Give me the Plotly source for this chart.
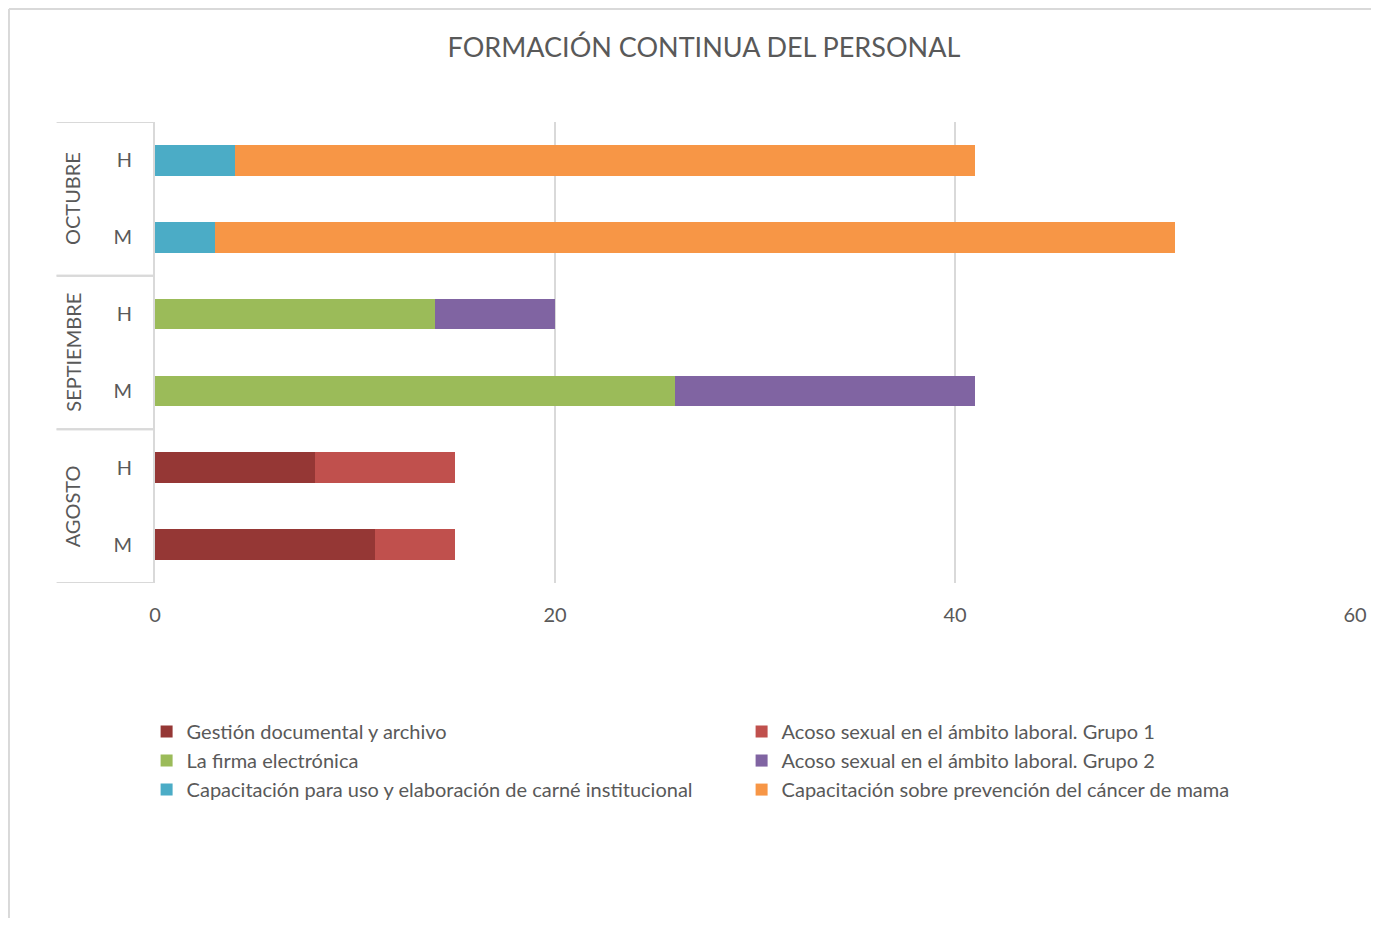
import plotly.graph_objects as go

# --- Data (bottom to top, as drawn) ---
meses = ["AGOSTO", "AGOSTO", "SEPTIEMBRE", "SEPTIEMBRE", "OCTUBRE", "OCTUBRE"]
sexo = ["M", "H", "M", "H", "M", "H"]

gestion_documental = [11, 8, 0, 0, 0, 0]
acoso_grupo1 = [4, 7, 0, 0, 0, 0]
firma_electronica = [0, 0, 26, 14, 0, 0]
acoso_grupo2 = [0, 0, 15, 6, 0, 0]
carne_institucional = [0, 0, 0, 0, 3, 4]
cancer_mama = [0, 0, 0, 0, 48, 37]

series = [
    ("Gestión documental y archivo", gestion_documental, "#953735"),
    ("Acoso sexual en el ámbito laboral. Grupo 1", acoso_grupo1, "#C0504D"),
    ("La firma electrónica", firma_electronica, "#9BBB59"),
    ("Acoso sexual en el ámbito laboral. Grupo 2", acoso_grupo2, "#8064A2"),
    ("Capacitación para uso y elaboración de carné institucional", carne_institucional, "#4BACC6"),
    ("Capacitación sobre prevención del cáncer de mama", cancer_mama, "#F79646"),
]

categorias = [f"{m} {s}" for m, s in zip(meses, sexo)]

FONT = "Lato, 'Open Sans', sans-serif"
GRAY = "#595959"
LINE = "#d9d9d9"

fig = go.Figure()
for nombre, valores, color in series:
    fig.add_trace(go.Bar(
        y=categorias,
        x=valores,
        name=nombre,
        orientation="h",
        marker=dict(color=color, line=dict(width=0)),
        width=0.4,
    ))

# month group labels and dividers
grupos = []
for i, m in enumerate(meses):
    if not grupos or grupos[-1][0] != m:
        grupos.append([m, i, i])
    else:
        grupos[-1][2] = i

lab_x = -0.082
for m, a, b in grupos:
    fig.add_annotation(
        x=-0.069, xref="paper", xanchor="center",
        y=(a + b) / 2, yref="y", yanchor="middle",
        text=m, textangle=-90, showarrow=False,
        font=dict(size=20, color=GRAY, family=FONT),
    )
    for yy in (a - 0.5, b + 0.5):
        fig.add_shape(type="line", xref="paper", yref="y",
                      x0=lab_x, x1=0, y0=yy, y1=yy,
                      line=dict(color=LINE, width=2))

# outer chart border
fig.add_shape(type="line", xref="paper", yref="paper",
              x0=-0.1217, x1=-0.1217, y0=1.245, y1=-1.0,
              line=dict(color=LINE, width=2))
fig.add_shape(type="line", xref="paper", yref="paper",
              x0=-0.1217, x1=1.1, y0=1.245, y1=1.245,
              line=dict(color=LINE, width=2))

fig.update_layout(
    width=1363, height=910,
    barmode="stack",
    paper_bgcolor="white", plot_bgcolor="white",
    margin=dict(l=147, r=16, t=114, b=335, autoexpand=False),
    font=dict(family=FONT, color=GRAY, size=20),
    title=dict(text="FORMACIÓN CONTINUA DEL PERSONAL",
               x=0.5106, xanchor="center", xref="container",
               y=1 - 40 / 910, yanchor="middle",
               font=dict(size=27, color=GRAY, family=FONT)),
    xaxis=dict(range=[0, 60], tickvals=[0, 20, 40, 60],
               showgrid=True, gridcolor=LINE, gridwidth=2,
               zeroline=False, showline=False, automargin=False,
               tickfont=dict(size=20, color=GRAY),
               ticklabelstandoff=18, fixedrange=True),
    yaxis=dict(type="category", categoryorder="array", categoryarray=categorias,
               tickvals=categorias, ticktext=sexo,
               range=[-0.5, len(categorias) - 0.5],
               showline=True, linecolor=LINE, linewidth=2,
               showgrid=False, zeroline=False, automargin=False,
               tickfont=dict(size=20, color=GRAY),
               ticklabelstandoff=17),
    showlegend=True,
    legend=dict(orientation="h", x=-0.007, xanchor="left",
                y=-0.28, yanchor="top",
                entrywidth=550, entrywidthmode="pixels",
                traceorder="normal",
                font=dict(size=20, color=GRAY, family=FONT),
                tracegroupgap=0),
)

fig.write_html("out.html")
